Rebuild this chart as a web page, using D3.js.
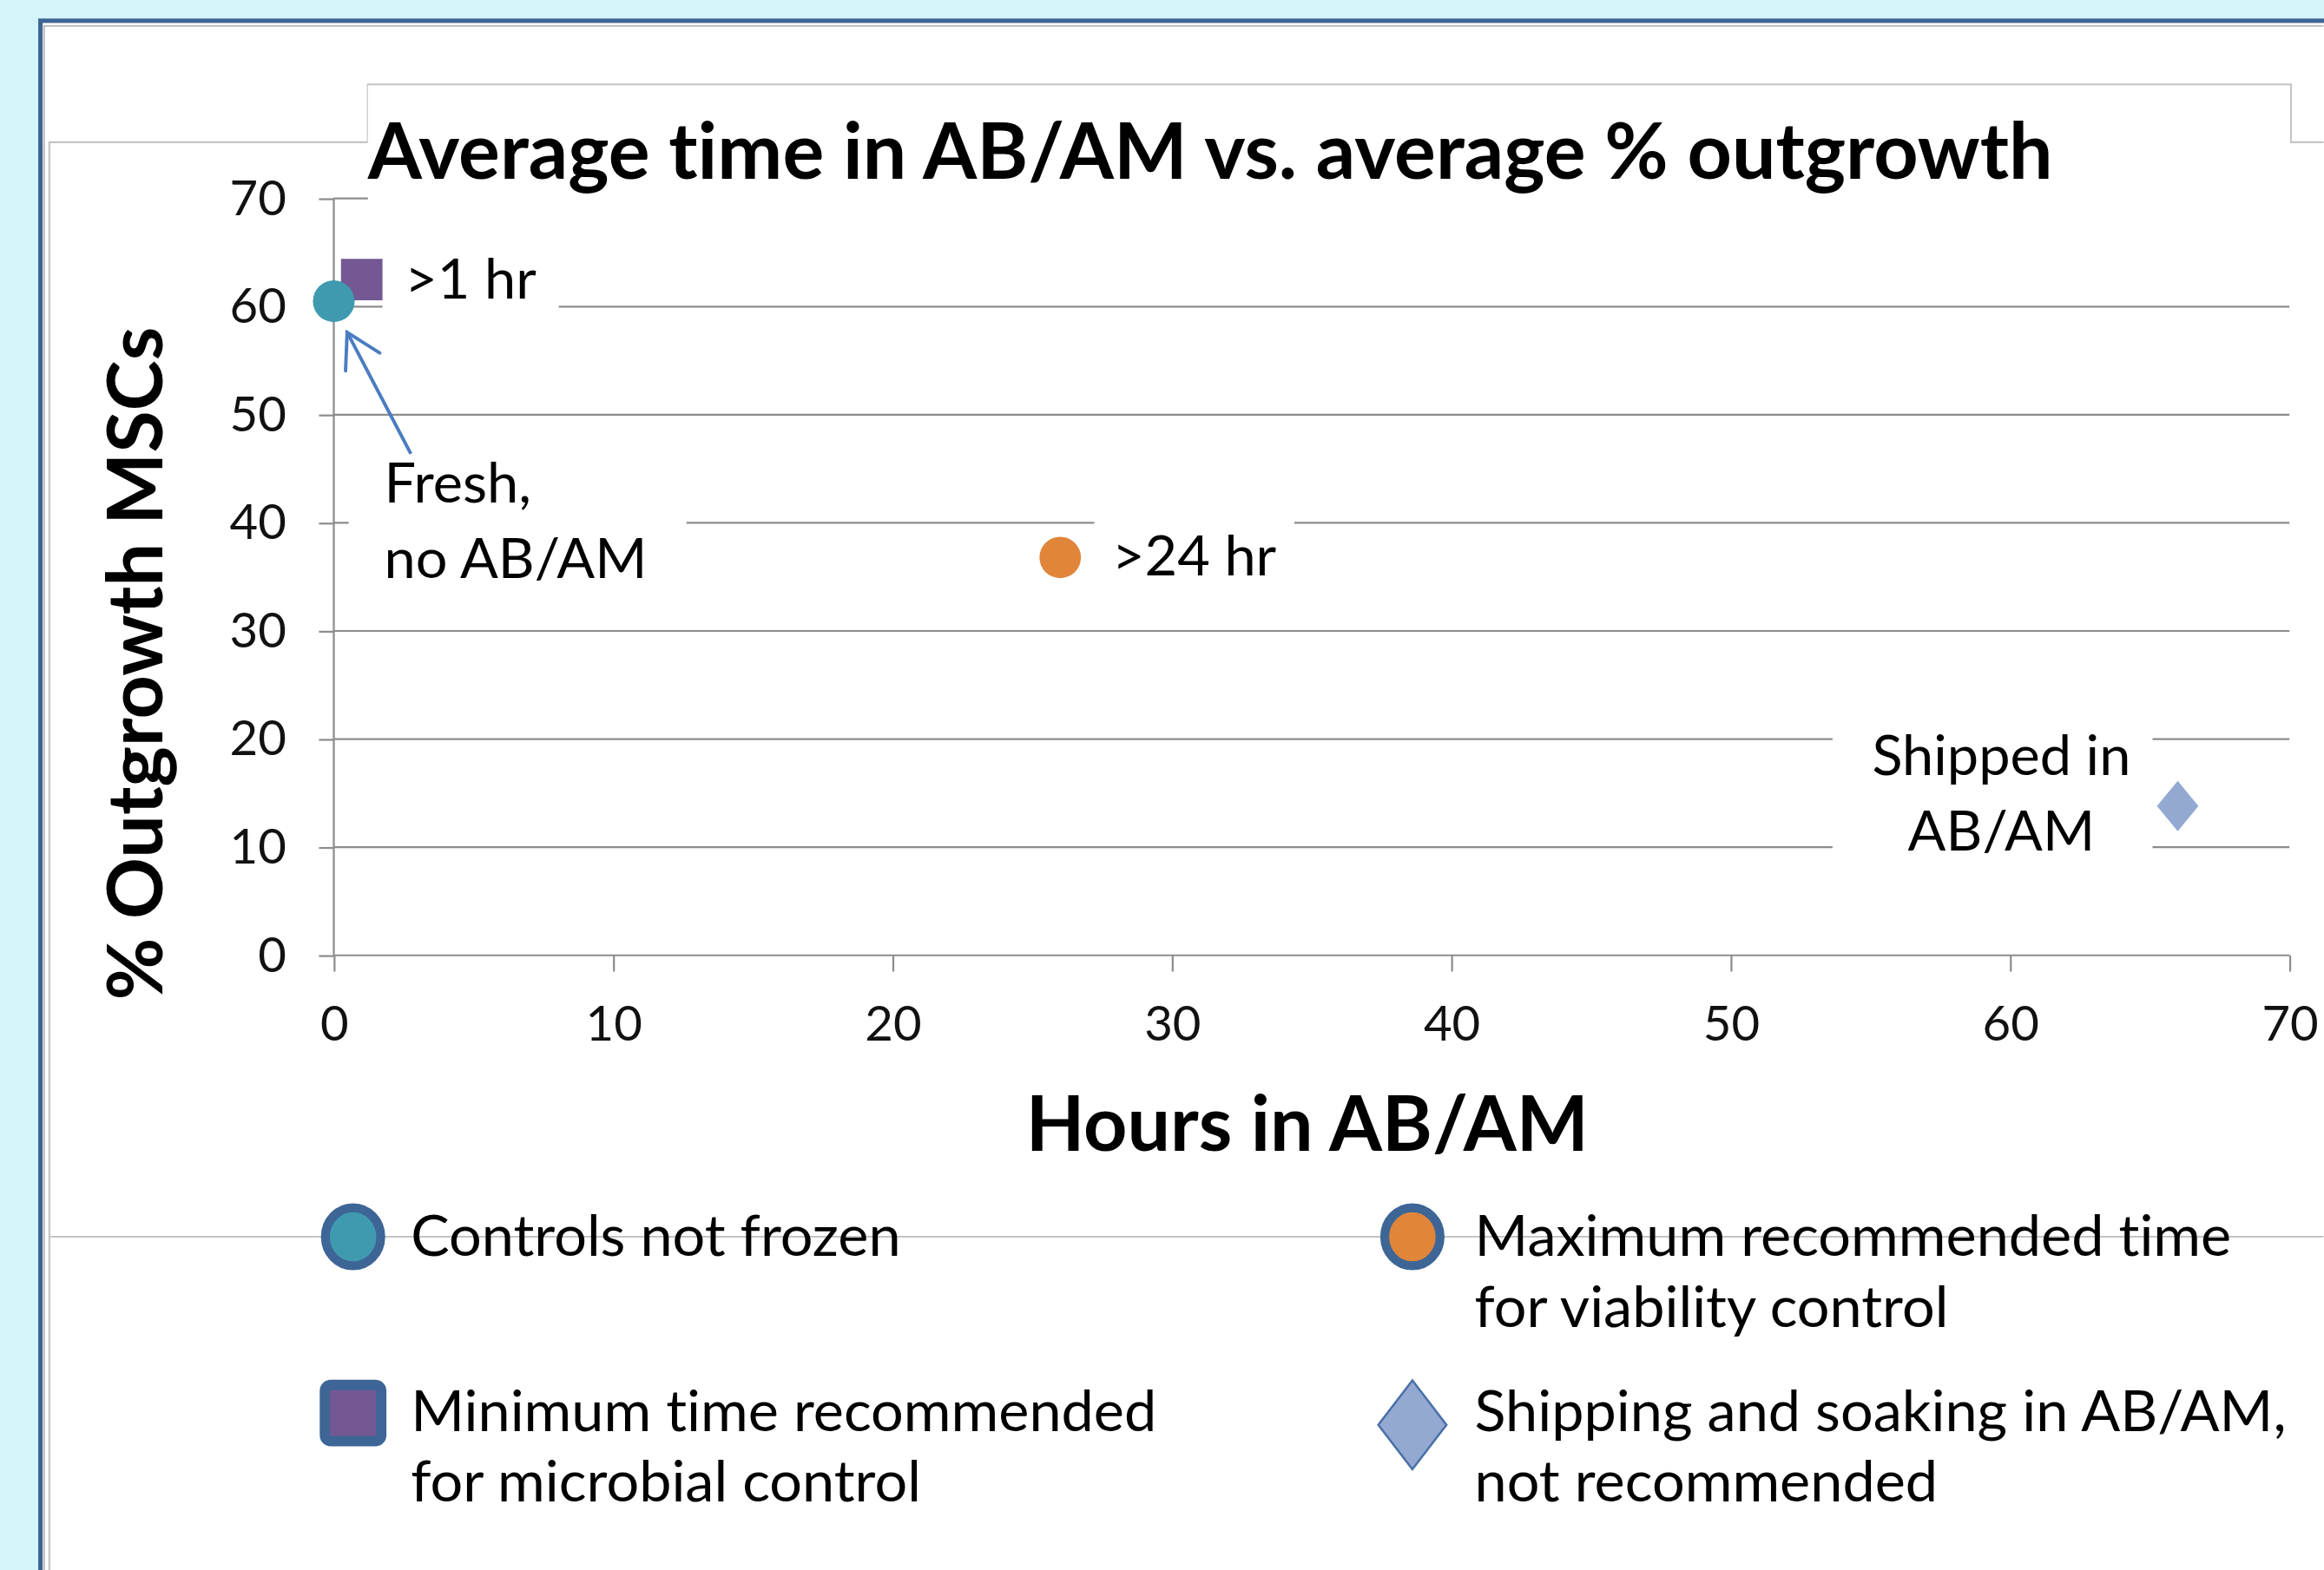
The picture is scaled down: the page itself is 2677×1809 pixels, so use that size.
<!DOCTYPE html>
<html>
<head>
<meta charset="utf-8">
<script src="https://cdn.jsdelivr.net/npm/d3@7"></script>
<style>
  body { margin: 0; background: #d3f5f9; overflow: hidden; }
  text { font-family: Lato, "Open Sans", sans-serif; fill: #000;
         font-variant-ligatures: none; font-feature-settings: "liga" 0, "clig" 0, "dlig" 0; }
</style>
</head>
<body>
<svg id="chart"></svg>
<script>
// data
const seriesNames = ["Controls not frozen", "Minimum time recommended for microbial control",
  "Maximum recommended time for viability control", "Shipping and soaking in AB/AM, not recommended"]
const hours = [0, 1, 26, 66]
const outgrowth = [60.5, 62.5, 36.8, 13.8]
const pointLabels = [["Fresh,", "no AB/AM"], [">1 hr"], [">24 hr"], ["Shipped in", "AB/AM"]]
const legendLines = [["Controls not frozen"], ["Minimum time recommended", "for microbial control"],
  ["Maximum recommended time", "for viability control"], ["Shipping and soaking in AB/AM,", "not recommended"]]
const xTicks = [0, 10, 20, 30, 40, 50, 60, 70]
const yTicks = [0, 10, 20, 30, 40, 50, 60, 70]
const chartTitle = "Average time in AB/AM vs. average % outgrowth"
const xTitle = "Hours in AB/AM"
const yTitle = "% Outgrowth MSCs"

// drawing is done in a 1568 x 1060 coordinate space, scaled up to the window
let width = 1568, height = 1060

let svg = d3.select("#chart")
  .attr("width", 2677)
  .attr("height", 1809)
  .attr("viewBox", `0 0 ${width} ${height}`)

let fills = ["#3f9ab0", "#735893", "#e0853a", "#93a9d2"]

let x = d3.scaleLinear().domain([0, 70]).range([225, 1545])
let y = d3.scaleLinear().domain([0, 70]).range([645, 134])

// page background and the framed panel
svg.append("rect").attr("width", width).attr("height", height).style("fill", "#d3f5f9")
svg.append("rect")
  .attr("x", 27).attr("y", 14).attr("width", 1700).attr("height", 1200)
  .style("fill", "#fff").style("stroke", "#3d6492").style("stroke-width", 3)
svg.append("path")
  .attr("d", "M29,17.5H1568M29.5,17V1060")
  .style("stroke", "#b8b8b8").style("stroke-width", 1).style("fill", "none")

// chart area outline (steps up around the title)
svg.append("path")
  .attr("d", "M33,1060V835H1568M33,835V96H248V57H1546V96H1568")
  .style("fill", "none").style("stroke", "#c4c4c4").style("stroke-width", 1.3)

// gridlines
svg.append("g")
  .selectAll("line")
  .data(yTicks.filter(d => d > 0))
  .join("line")
  .attr("x1", x(0)).attr("x2", x(70))
  .attr("y1", d => y(d)).attr("y2", d => y(d))
  .style("stroke", "#8c8c8c").style("stroke-width", 1.3)

// title box hides the top gridline
svg.append("rect")
  .attr("x", 248).attr("y", 57.7).attr("width", 1297.3).attr("height", 84)
  .style("fill", "#fff")

// axes
let yAxis = svg.append("g")
  .attr("transform", `translate(${x(0)},0)`)
  .call(d3.axisLeft(y).tickValues(yTicks).tickSize(10).tickPadding(22))
let xAxis = svg.append("g")
  .attr("transform", `translate(0,${y(0)})`)
  .call(d3.axisBottom(x).tickValues(xTicks).tickSize(11).tickPadding(23))

svg.selectAll(".domain").remove()
svg.append("line")
  .attr("x1", x(0)).attr("x2", x(0)).attr("y1", y(70)).attr("y2", y(0))
  .style("stroke", "#8c8c8c").style("stroke-width", 1.3)
svg.append("line")
  .attr("x1", x(0)).attr("x2", x(70)).attr("y1", y(0)).attr("y2", y(0))
  .style("stroke", "#8c8c8c").style("stroke-width", 1.3)
svg.selectAll(".tick line").style("stroke", "#8c8c8c").style("stroke-width", 1.3)
svg.selectAll(".tick text")
  .style("font-size", "33px").style("font-family", "Lato").style("fill", "#111")
xAxis.selectAll(".tick text").attr("dy", "0.71em")

// white label boxes that cut the gridlines, offsets from each point
let labelBoxes = [
  { x: 10, y: 95, w: 228, h: 110 },
  { x: 14, y: -20, w: 119, h: 44 },
  { x: 23, y: -25, w: 135, h: 48 },
  { x: -233, y: -60, w: 216, h: 112 }
]
let labelText = [
  { x: 34, y: 136, anchor: "start" },
  { x: 29, y: 13, anchor: "start" },
  { x: 35, y: 12, anchor: "start" },
  { x: -119, y: -21, anchor: "middle" }
]

svg.append("g")
  .selectAll("rect")
  .data(hours)
  .join("rect")
  .attr("x", (d, i) => x(d) + labelBoxes[i].x)
  .attr("y", (d, i) => y(outgrowth[i]) + labelBoxes[i].y)
  .attr("width", (d, i) => labelBoxes[i].w)
  .attr("height", (d, i) => labelBoxes[i].h)
  .style("fill", "#fff")

svg.append("g")
  .selectAll("text")
  .data(hours)
  .join("text")
  .attr("x", (d, i) => x(d) + labelText[i].x)
  .attr("y", (d, i) => y(outgrowth[i]) + labelText[i].y)
  .attr("text-anchor", (d, i) => labelText[i].anchor)
  .style("font-size", "38px")
  .each(function (d, i) {
    let t = d3.select(this)
    pointLabels[i].forEach((s, k) => {
      t.append("tspan").attr("x", t.attr("x")).attr("dy", k == 0 ? 0 : 51).text(s)
    })
  })

// arrow from the "Fresh" label to its point
svg.append("defs").append("marker")
  .attr("id", "head")
  .attr("viewBox", "0 0 26 30")
  .attr("refX", 24).attr("refY", 15)
  .attr("markerWidth", 26).attr("markerHeight", 30)
  .attr("markerUnits", "userSpaceOnUse")
  .attr("orient", "auto")
  .append("path")
  .attr("d", "M1.5,2L24,15L1.5,28")
  .style("fill", "none").style("stroke", "#4a7cc1").style("stroke-width", 2.3)
  .style("stroke-linecap", "round")

svg.append("line")
  .attr("x1", x(hours[0]) + 52).attr("y1", y(outgrowth[0]) + 103)
  .attr("x2", x(hours[0]) + 9).attr("y2", y(outgrowth[0]) + 21)
  .attr("marker-end", "url(#head)")
  .style("stroke", "#4a7cc1").style("stroke-width", 2.3)

// markers
let symbolFor = i => {
  if (i == 1) return d3.symbol(d3.symbolSquare, 28 * 28)()
  if (i == 3) return "M0,-17L14,0L0,17L-14,0Z"
  return d3.symbol(d3.symbolCircle, Math.PI * 14 * 14)()
}
svg.append("g")
  .selectAll("path")
  .data(hours)
  .join("path")
  .attr("transform", (d, i) => `translate(${x(d)},${y(outgrowth[i])})`)
  .attr("d", (d, i) => symbolFor(i))
  .style("fill", (d, i) => fills[i])

// redraw the controls point on top of the square
svg.append("path")
  .attr("transform", `translate(${x(hours[0])},${y(outgrowth[0])})`)
  .attr("d", symbolFor(0))
  .style("fill", fills[0])

// chart title and axis titles
svg.append("text")
  .attr("x", 248).attr("y", 121)
  .style("font-size", "52.5px").style("font-weight", "bold")
  .text(chartTitle)

svg.append("text")
  .attr("x", 882).attr("y", 777)
  .attr("text-anchor", "middle")
  .style("font-size", "51.5px").style("font-weight", "bold")
  .text(xTitle)

svg.append("text")
  .attr("transform", "translate(109,448) rotate(-90)")
  .attr("text-anchor", "middle")
  .style("font-size", "51.5px").style("font-weight", "bold")
  .text(yTitle)

// legend, two columns
let legendPos = [[238, 835], [238, 954], [953, 835], [953, 962]]
let legend = svg.append("g")
  .selectAll("g")
  .data(seriesNames)
  .join("g")
  .attr("transform", (d, i) => `translate(${legendPos[i][0]},${legendPos[i][1]})`)

legend.each(function (d, i) {
  let g = d3.select(this)
  if (i == 0 || i == 2) {
    g.append("ellipse").attr("rx", 18.7).attr("ry", 19.6)
      .style("fill", fills[i]).style("stroke", "#3d6596").style("stroke-width", 6)
  } else if (i == 1) {
    g.append("rect").attr("x", -19).attr("y", -19).attr("width", 38).attr("height", 38).attr("rx", 4)
      .style("fill", fills[i]).style("stroke", "#3d6596").style("stroke-width", 7)
  } else {
    g.append("path").attr("d", "M0,-30L23,0L0,30L-23,0Z")
      .style("fill", fills[i]).style("stroke", "#4a70a8").style("stroke-width", 1.5)
  }
  let t = g.append("text")
    .attr("x", i < 2 ? 39 : 42).attr("y", i == 1 ? 12 : i == 3 ? 4 : 13)
    .style("font-size", "39px")
  legendLines[i].forEach((s, k) => {
    t.append("tspan").attr("x", t.attr("x")).attr("dy", k == 0 ? 0 : 48).text(s)
  })
})
</script>
</body>
</html>
